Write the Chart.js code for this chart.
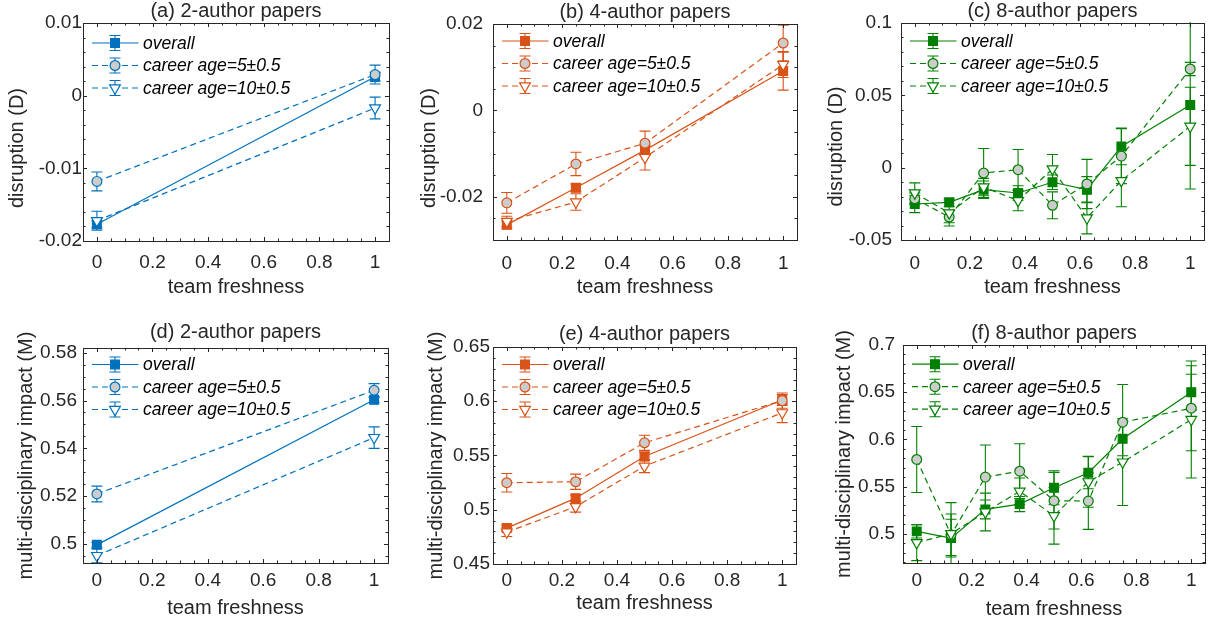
<!DOCTYPE html>
<html>
<head>
<meta charset="utf-8">
<script src="https://cdn.jsdelivr.net/npm/chart.js@4.4.1/dist/chart.umd.min.js"></script>
<style>
html, body { margin: 0; padding: 0; background: #fff; }
#fig { position: relative; width: 1216px; height: 626px; overflow: hidden; background: #fff; }
#fig canvas { position: absolute; }
</style>
</head>
<body>
<div id="fig">
  <canvas id="ca"></canvas>
  <canvas id="cb"></canvas>
  <canvas id="cc"></canvas>
  <canvas id="cd"></canvas>
  <canvas id="ce"></canvas>
  <canvas id="cf"></canvas>
</div>
<script>
// ========== data ==========
const freshness2 = [0, 1]
const freshness4 = [0, 0.25, 0.5, 1]
const freshness8 = [0, 0.125, 0.25, 0.375, 0.5, 0.625, 0.75, 1]
const seriesNames = ['overall', 'career age=5±0.5', 'career age=10±0.5']

const xTickVals = [0, 0.2, 0.4, 0.6, 0.8, 1]
const yTicksA = [-0.02, -0.01, 0, 0.01]
const yTicksB = [-0.02, 0, 0.02]
const yTicksC = [-0.05, 0, 0.05, 0.1]
const yTicksD = [0.5, 0.52, 0.54, 0.56, 0.58]
const yTicksE = [0.45, 0.5, 0.55, 0.6, 0.65]
const yTicksF = [0.5, 0.55, 0.6, 0.65, 0.7]

// disruption, 2-author
const disOverall2 = [-0.0177, 0.0026]
const disOverall2Err = [0.0005, 0.0006]
const disAge5_2 = [-0.0118, 0.0029]
const disAge5_2Err = [0.0013, 0.0013]
const disAge10_2 = [-0.0172, -0.0017]
const disAge10_2Err = [0.0013, 0.0015]

// disruption, 4-author
const disOverall4 = [-0.0265, -0.0179, -0.0092, 0.0091]
const disOverall4Err = [0.0009, 0.0009, 0.0010, 0.0044]
const disAge5_4 = [-0.0214, -0.0124, -0.0076, 0.0156]
const disAge5_4Err = [0.0024, 0.0027, 0.0028, 0.0041]
const disAge10_4 = [-0.0257, -0.0212, -0.0109, 0.0106]
const disAge10_4Err = [0.0012, 0.0019, 0.0029, 0.0030]

// disruption, 8-author
const disOverall8 = [-0.0251, -0.0240, -0.0152, -0.0175, -0.0101, -0.0152, 0.0147, 0.0433]
const disOverall8Err = [0.0060, 0.0030, 0.0060, 0.0050, 0.0050, 0.0090, 0.0127, 0.0580]
const disAge5_8 = [-0.0214, -0.0341, -0.0037, -0.0014, -0.0260, -0.0113, 0.0080, 0.0682]
const disAge5_8Err = [0.0040, 0.0040, 0.0170, 0.0140, 0.0093, 0.0170, 0.0190, 0.0046]
const disAge10_8 = [-0.0175, -0.0313, -0.0134, -0.0228, -0.0009, -0.0348, -0.0090, 0.0286]
const disAge10_8Err = [0.0070, 0.0090, 0.0060, 0.0070, 0.0100, 0.0110, 0.0180, 0.0270]

// multi-disciplinary impact, 2-author
const mulOverall2 = [0.4996, 0.5603]
const mulOverall2Err = [0.0010, 0.0012]
const mulAge5_2 = [0.5209, 0.5643]
const mulAge5_2Err = [0.0033, 0.0028]
const mulAge10_2 = [0.4951, 0.5445]
const mulAge10_2Err = [0.0030, 0.0045]

// multi-disciplinary impact, 4-author
const mulOverall4 = [0.4831, 0.5107, 0.5491, 0.6012]
const mulOverall4Err = [0.0030, 0.0030, 0.0040, 0.0050]
const mulAge5_4 = [0.5249, 0.5258, 0.5617, 0.6006]
const mulAge5_4Err = [0.0085, 0.0070, 0.0070, 0.0070]
const mulAge10_4 = [0.4794, 0.5028, 0.5402, 0.5893]
const mulAge10_4Err = [0.0040, 0.0050, 0.0060, 0.0090]

// multi-disciplinary impact, 8-author
const mulOverall8 = [0.5025, 0.4954, 0.5258, 0.5314, 0.5487, 0.5646, 0.6006, 0.6500]
const mulOverall8Err = [0.0070, 0.0200, 0.0100, 0.0080, 0.0180, 0.0170, 0.0180, 0.0190]
const mulAge5_8 = [0.5787, 0.4990, 0.5600, 0.5663, 0.5350, 0.5346, 0.6182, 0.6330]
const mulAge5_8Err = [0.0350, 0.0220, 0.0340, 0.0290, 0.0300, 0.0300, 0.0400, 0.0450]
const mulAge10_8 = [0.4905, 0.5000, 0.5230, 0.5450, 0.5190, 0.5550, 0.5759, 0.6210]
const mulAge10_8Err = [0.0190, 0.0330, 0.0200, 0.0140, 0.0300, 0.0270, 0.0460, 0.0620]

// ========== style ==========
const BLUE = '#0072BD'
const ORANGE = '#D95319'
const GREEN = '#008000'
const AXIS = '#262626'
const FONT = "'Liberation Sans', Arial, Helvetica, sans-serif"
const CANVAS_H = 313

Chart.defaults.font.family = FONT
Chart.defaults.color = AXIS

// ========== panel layout (figure pixels) ==========
const panels = [
  { id: 'ca', title: '(a) 2-author papers', yTitle: 'disruption (D)', color: BLUE, xs: freshness2,
    series: [[disOverall2, disOverall2Err], [disAge5_2, disAge5_2Err], [disAge10_2, disAge10_2Err]],
    yTicks: yTicksA, yMin: -0.02, yMax: 0.01, yMinor: 0.002,
    x0: 0, y0: 0, w: 410, L: 83, T: 23, R: 389, B: 241,
    titlePad: { top: 0, bottom: 0 }, yTitlePad: 5.5, yTitleShift: 16, yTickGap: 1, xTickGap: 10, xTitlePad: 14, legendDy: 2 },
  { id: 'cb', title: '(b) 4-author papers', yTitle: 'disruption (D)', color: ORANGE, xs: freshness4,
    series: [[disOverall4, disOverall4Err], [disAge5_4, disAge5_4Err], [disAge10_4, disAge10_4Err]],
    yTicks: yTicksB, yMin: -0.03, yMax: 0.02, yMinor: 0.005,
    x0: 410, y0: 0, w: 408, L: 493, T: 24, R: 797, B: 240,
    titlePad: { top: 0.5, bottom: 0.5 }, yTitlePad: 7, yTitleShift: 16, yTickGap: 10, xTickGap: 12, xTitlePad: 14, legendDy: -1 },
  { id: 'cc', title: '(c) 8-author papers', yTitle: 'disruption (D)', color: GREEN, xs: freshness8,
    series: [[disOverall8, disOverall8Err], [disAge5_8, disAge5_8Err], [disAge10_8, disAge10_8Err]],
    yTicks: yTicksC, yMin: -0.05, yMax: 0.1, yMinor: 0.01,
    x0: 818, y0: 0, w: 398, L: 901, T: 23, R: 1204, B: 240,
    titlePad: { top: 0, bottom: 0 }, yTitlePad: 6, yTitleShift: 15, yTickGap: 9, xTickGap: 12, xTitlePad: 14, legendDy: 0 },
  { id: 'cd', title: '(d) 2-author papers', yTitle: 'multi-disciplinary impact (M)', color: BLUE, xs: freshness2,
    series: [[mulOverall2, mulOverall2Err], [mulAge5_2, mulAge5_2Err], [mulAge10_2, mulAge10_2Err]],
    yTicks: yTicksD, yMin: 0.492, yMax: 0.582, yMinor: 0.005,
    x0: 0, y0: 313, w: 410, L: 83, T: 348, R: 388, B: 563,
    titlePad: { top: 8, bottom: 4 }, yTitlePad: 14, yTitleShift: 0, yTickGap: 6, xTickGap: 6, xTitlePad: 6, legendDy: -1.5 },
  { id: 'ce', title: '(e) 4-author papers', yTitle: 'multi-disciplinary impact (M)', color: ORANGE, xs: freshness4,
    series: [[mulOverall4, mulOverall4Err], [mulAge5_4, mulAge5_4Err], [mulAge10_4, mulAge10_4Err]],
    yTicks: yTicksE, yMin: 0.45, yMax: 0.65, yMinor: 0.01,
    x0: 410, y0: 313, w: 408, L: 493, T: 347, R: 796, B: 564,
    titlePad: { top: 9.8, bottom: 1.2 }, yTitlePad: 14, yTitleShift: 0, yTickGap: 3, xTickGap: 5, xTitlePad: 11, legendDy: -0.5 },
  { id: 'cf', title: '(f) 8-author papers', yTitle: 'multi-disciplinary impact (M)', color: GREEN, xs: freshness8,
    series: [[mulOverall8, mulOverall8Err], [mulAge5_8, mulAge5_8Err], [mulAge10_8, mulAge10_8Err]],
    yTicks: yTicksF, yMin: 0.469, yMax: 0.7, yMinor: 0.01,
    x0: 818, y0: 313, w: 398, L: 903, T: 345, R: 1205, B: 563,
    titlePad: { top: 9, bottom: 0 }, yTitlePad: 14, yTitleShift: 0, yTickGap: 8, xTickGap: 6, xTitlePad: 5, legendDy: 1.2 }
]

// ========== plugins ==========
// vertical error bars with caps, drawn under the lines and markers
const errorBars = {
  id: 'errorBars',
  beforeDatasetsDraw(chart) {
    const { ctx, chartArea: a } = chart
    const yScale = chart.scales.y
    ctx.save()
    ctx.beginPath()
    ctx.rect(a.left, a.top - 1, a.right - a.left, a.bottom - a.top + 2)
    ctx.clip()
    chart.data.datasets.forEach((ds, i) => {
      const meta = chart.getDatasetMeta(i)
      ctx.strokeStyle = ds.borderColor
      ctx.lineWidth = 1.1
      ctx.setLineDash([])
      meta.data.forEach((pt, k) => {
        const v = ds.data[k].y
        const e = ds.errors[k]
        const top = yScale.getPixelForValue(v + e)
        const bot = yScale.getPixelForValue(v - e)
        const cap = 5.5
        ctx.beginPath()
        ctx.moveTo(pt.x, top); ctx.lineTo(pt.x, bot)
        ctx.moveTo(pt.x - cap, top); ctx.lineTo(pt.x + cap, top)
        ctx.moveTo(pt.x - cap, bot); ctx.lineTo(pt.x + cap, bot)
        ctx.stroke()
      })
    })
    ctx.restore()
  }
}

function drawMarker(ctx, ds, x, y) {
  ctx.save()
  ctx.setLineDash([])
  ctx.fillStyle = ds.pointBackgroundColor
  ctx.strokeStyle = ds.pointBorderColor
  ctx.lineWidth = ds.pointBorderWidth
  Chart.helpers.drawPoint(ctx, {
    pointStyle: ds.pointStyle, radius: ds.pointRadius,
    rotation: ds.pointRotation || 0, borderWidth: ds.pointBorderWidth
  }, x, y)
  ctx.restore()
}

// MATLAB-like legend without box, inside the top-left of the axes
const boxLegend = {
  id: 'boxLegend',
  afterDatasetsDraw(chart, args, opts) {
    const { ctx, chartArea: a } = chart
    const rows = [18, 40.5, 63]
    chart.data.datasets.forEach((ds, i) => {
      const y = a.top + rows[i] + (opts.dy || 0)
      const x1 = a.left + 9, x2 = a.left + 55.5, xm = a.left + 32
      ctx.save()
      ctx.strokeStyle = ds.borderColor
      ctx.lineWidth = ds.borderWidth
      ctx.setLineDash(ds.borderDash || [])
      ctx.beginPath(); ctx.moveTo(x1, y); ctx.lineTo(x2, y); ctx.stroke()
      ctx.setLineDash([])
      ctx.lineWidth = 1.1
      ctx.beginPath()
      ctx.moveTo(xm, y - 7.5); ctx.lineTo(xm, y + 7.5)
      ctx.moveTo(xm - 5.5, y - 7.5); ctx.lineTo(xm + 5.5, y - 7.5)
      ctx.moveTo(xm - 5.5, y + 7.5); ctx.lineTo(xm + 5.5, y + 7.5)
      ctx.stroke()
      drawMarker(ctx, ds, xm, y)
      ctx.fillStyle = '#000'
      ctx.font = 'italic 17.5px ' + FONT
      ctx.textBaseline = 'middle'
      ctx.textAlign = 'left'
      ctx.fillText(ds.label, a.left + 60, y + 1)
      ctx.restore()
    })
  }
}

// box around the axes with inward major and minor ticks on all four sides
const axesBox = {
  id: 'axesBox',
  afterDraw(chart, args, opts) {
    const { ctx, chartArea: a } = chart
    const xs = chart.scales.x, ys = chart.scales.y
    ctx.save()
    ctx.strokeStyle = AXIS
    ctx.lineWidth = 1
    ctx.setLineDash([])
    const tick = (px, isX, len) => {
      ctx.beginPath()
      if (isX) {
        ctx.moveTo(px, a.bottom); ctx.lineTo(px, a.bottom - len)
        ctx.moveTo(px, a.top); ctx.lineTo(px, a.top + len)
      } else {
        ctx.moveTo(a.left, px); ctx.lineTo(a.left + len, px)
        ctx.moveTo(a.right, px); ctx.lineTo(a.right - len, px)
      }
      ctx.stroke()
    }
    const minorRun = (scale, step, isX) => {
      const n0 = Math.ceil(scale.min / step - 1e-6), n1 = Math.floor(scale.max / step + 1e-6)
      for (let n = n0; n <= n1; n++) tick(Math.round(scale.getPixelForValue(n * step)) + 0.5, isX, 2.5)
    }
    minorRun(xs, opts.xMinor, true)
    minorRun(ys, opts.yMinor, false)
    xs.ticks.forEach(t => tick(Math.round(xs.getPixelForValue(t.value)) + 0.5, true, 4))
    ys.ticks.forEach(t => tick(Math.round(ys.getPixelForValue(t.value)) + 0.5, false, 4))
    ctx.strokeRect(Math.round(a.left) + 0.5, Math.round(a.top) + 0.5,
      Math.round(a.right - a.left), Math.round(a.bottom - a.top))
    ctx.restore()
  }
}

// move the rotated y-axis title along the axis (MATLAB placed it off-centre)
const shiftYTitle = {
  id: 'shiftYTitle',
  afterLayout(chart, args, opts) {
    const s = chart.scales.y
    if (!opts.shift || s._shifted) return
    const draw = s.drawTitle
    s.drawTitle = function () {
      this.ctx.save()
      this.ctx.translate(0, opts.shift)
      draw.call(this)
      this.ctx.restore()
    }
    s._shifted = true
  }
}

// ========== build one panel ==========
function makePanel(p) {
  const canvas = document.getElementById(p.id)
  canvas.width = p.w
  canvas.height = CANVAS_H
  canvas.style.left = p.x0 + 'px'
  canvas.style.top = p.y0 + 'px'

  const markers = [
    { pointStyle: 'rect', pointRadius: 6.2, pointRotation: 0, pointBackgroundColor: p.color },
    { pointStyle: 'circle', pointRadius: 4.9, pointRotation: 0, pointBackgroundColor: '#CCCCCC' },
    { pointStyle: 'triangle', pointRadius: 6.2, pointRotation: 180, pointBackgroundColor: '#FFFFFF' }
  ]
  const datasets = p.series.map((s, i) => Object.assign({
    label: seriesNames[i],
    data: p.xs.map((x, k) => ({ x: x, y: s[0][k] })),
    errors: s[1],
    borderColor: p.color,
    borderWidth: 1.2,
    borderDash: i === 0 ? [] : [6, 4],
    pointBorderColor: p.color,
    pointBorderWidth: 1.2,
    tension: 0,
    fill: false,
    order: 2 - i
  }, markers[i]))

  new Chart(canvas, {
    type: 'line',
    data: { datasets },
    options: {
      responsive: false,
      animation: false,
      events: [],
      devicePixelRatio: 1,
      layout: { padding: { left: 0, top: 0, bottom: 0, right: p.x0 + p.w - p.R } },
      plugins: {
        legend: { display: false },
        tooltip: { enabled: false },
        title: {
          display: true, text: p.title, fullSize: false, color: AXIS,
          font: { size: 20, weight: 'normal', lineHeight: 1.15 }, padding: p.titlePad
        },
        boxLegend: { dy: p.legendDy },
        axesBox: { xMinor: 0.05, yMinor: p.yMinor },
        shiftYTitle: { shift: p.yTitleShift }
      },
      scales: {
        x: {
          type: 'linear', min: -0.05, max: 1.05,
          grid: { display: false, drawTicks: false },
          border: { display: false },
          afterBuildTicks: s => { s.ticks = xTickVals.map(v => ({ value: v })) },
          afterFit: s => { s.height = CANVAS_H - (p.B - p.y0) },
          ticks: { autoSkip: false, maxRotation: 0, padding: p.xTickGap, color: AXIS,
            font: { size: 19, lineHeight: 1.2 }, callback: v => String(v) },
          title: { display: true, text: 'team freshness', color: AXIS,
            font: { size: 20, lineHeight: 1.2 }, padding: { top: 0, bottom: p.xTitlePad } }
        },
        y: {
          type: 'linear', min: p.yMin, max: p.yMax,
          grid: { display: false, drawTicks: false },
          border: { display: false },
          afterBuildTicks: s => { s.ticks = p.yTicks.map(v => ({ value: v })) },
          afterFit: s => { s.width = p.L - p.x0 },
          ticks: { autoSkip: false, padding: p.yTickGap, color: AXIS,
            font: { size: 19, lineHeight: 1.2 }, callback: v => String(v) },
          title: { display: true, text: p.yTitle, color: AXIS,
            font: { size: 20, lineHeight: 1.2 }, padding: { top: p.yTitlePad, bottom: 0 } }
        }
      }
    },
    plugins: [errorBars, boxLegend, axesBox, shiftYTitle]
  })
}

panels.forEach(makePanel)
</script>
</body>
</html>
